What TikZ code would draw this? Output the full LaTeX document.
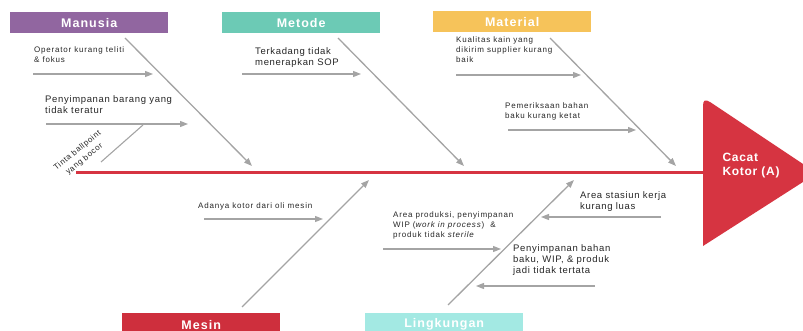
\documentclass[tikz,border=0pt]{standalone}
\usepackage{fontspec}
\setmainfont{Liberation Sans}
\usetikzlibrary{arrows.meta}
\definecolor{cManusia}{HTML}{9166A0}
\definecolor{cMetode}{HTML}{6CCAB5}
\definecolor{cMaterial}{HTML}{F6C35A}
\definecolor{cMesin}{HTML}{CE2F3D}
\definecolor{cLingk}{HTML}{A3E9E3}
\definecolor{cSpine}{HTML}{D63441}
\definecolor{cBone}{HTML}{A4A4A4}
\definecolor{cText}{HTML}{262626}
\tikzset{
  catbox/.style={minimum width=158pt, minimum height=21pt, inner sep=0pt,
    text=white, font=\fontsize{12.5}{14}\selectfont\bfseries\addfontfeatures{LetterSpace=8}},
  bone/.style={draw=cBone, line width=1.3pt, -{Triangle[length=8pt,width=6pt]}},
  twig/.style={draw=cBone, line width=1.3pt, -{Triangle[length=8pt,width=6pt]}},
  causesm/.style={anchor=north west, inner sep=0pt, align=left, text=cText,
    font=\fontsize{8}{10}\selectfont\addfontfeatures{LetterSpace=10}},
  causelg/.style={anchor=north west, inner sep=0pt, align=left, text=cText,
    font=\fontsize{9.5}{11}\selectfont\addfontfeatures{LetterSpace=7}},
}
\begin{document}
\begin{tikzpicture}[x=1pt, y=-1pt]
\useasboundingbox (0,0) rectangle (803,331);

% category headers
\node[catbox, fill=cManusia, anchor=north west] (manusia) at (10,12) {Manusia};
\node[catbox, fill=cMetode, anchor=north west] (metode) at (222,12) {Metode};
\node[catbox, fill=cMaterial, anchor=north west] (material) at (433,11) {Material};
\node[catbox, fill=cMesin, anchor=north west, minimum height=23pt] (mesin) at (122,313) {Mesin};
\node[catbox, fill=cLingk, anchor=north west, minimum height=23pt] (lingk) at (365,313) {Lingkungan};

% fish head
\fill[cSpine] (703,246) -- (703,106) .. controls (703,100) and (705,99) .. (710,102)
  -- (803,164) -- (803,182) -- cycle;
\node[anchor=west, align=left, text=white,
  font=\fontsize{12}{14}\selectfont\bfseries\addfontfeatures{LetterSpace=6}] (effect) at (719,166) {Cacat\\Kotor (A)};

% spine
\coordinate (tail) at (76,173);
\coordinate (neck) at (704,173);
\draw[cSpine, line width=3pt] (tail) -- (neck);

% main bones
\coordinate (b1s) at (125,38);  \coordinate (b1e) at (252,166);
\coordinate (b2s) at (338,38);  \coordinate (b2e) at (464,166);
\coordinate (b3s) at (550,38);  \coordinate (b3e) at (676,166);
\coordinate (b4s) at (242,307); \coordinate (b4e) at (369,180);
\coordinate (b5s) at (448,305); \coordinate (b5e) at (574,180);
\draw[bone] (b1s) -- (b1e);
\draw[bone] (b2s) -- (b2e);
\draw[bone] (b3s) -- (b3e);
\draw[bone] (b4s) -- (b4e);
\draw[bone] (b5s) -- (b5e);

% Manusia causes
\node[causesm] (c1) at (34,47) {Operator kurang teliti\\\& fokus};
\coordinate (t1s) at (33,74); \coordinate (t1e) at (153,74);
\draw[twig] (t1s) -- (t1e);
\node[causelg] (c2) at (45,95) {Penyimpanan barang yang\\tidak teratur};
\coordinate (t2s) at (46,124); \coordinate (t2e) at (188,124);
\draw[twig] (t2s) -- (t2e);
\coordinate (t3s) at (101,162); \coordinate (t3e) at (143,125);
\draw[draw=cBone, line width=1.1pt] (t3s) -- (t3e);
\node[rotate=39, align=center, text=cText, inner sep=0pt,
  font=\fontsize{8}{11}\selectfont\addfontfeatures{LetterSpace=8}] (c3) at (81,155) {Tinta ballpoint\\yang bocor};

% Metode cause
\node[causelg] (c4) at (255,47) {Terkadang tidak\\menerapkan SOP};
\coordinate (t4s) at (242,74); \coordinate (t4e) at (361,74);
\draw[twig] (t4s) -- (t4e);

% Material causes
\node[causesm] (c5) at (456,37) {Kualitas kain yang\\dikirim supplier kurang\\baik};
\coordinate (t5s) at (456,75); \coordinate (t5e) at (581,75);
\draw[twig] (t5s) -- (t5e);
\node[causesm] (c6) at (505,103) {Pemeriksaan bahan\\baku kurang ketat};
\coordinate (t6s) at (508,130); \coordinate (t6e) at (636,130);
\draw[twig] (t6s) -- (t6e);

% Mesin cause
\node[causesm] (c7) at (198,203) {Adanya kotor dari oli mesin};
\coordinate (t7s) at (204,219); \coordinate (t7e) at (323,219);
\draw[twig] (t7s) -- (t7e);

% Lingkungan causes
\node[causesm] (c8) at (393,212) {Area produksi, penyimpanan\\WIP (\textit{work in process})\ \ \&\\produk tidak \textit{sterile}};
\coordinate (t8s) at (383,249); \coordinate (t8e) at (501,249);
\draw[twig] (t8s) -- (t8e);
\node[causelg] (c9) at (580,191) {Area stasiun kerja\\kurang luas};
\coordinate (t9s) at (661,217); \coordinate (t9e) at (541,217);
\draw[twig] (t9s) -- (t9e);
\node[causelg] (c10) at (513,244) {Penyimpanan bahan\\baku, WIP, \& produk\\jadi tidak tertata};
\coordinate (t10s) at (595,286); \coordinate (t10e) at (476,286);
\draw[twig] (t10s) -- (t10e);
\end{tikzpicture}
\end{document}
